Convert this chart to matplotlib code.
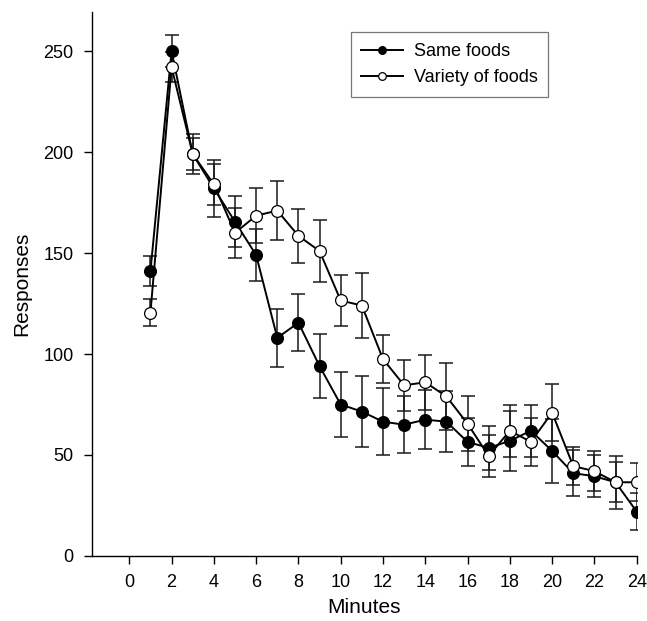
import matplotlib
matplotlib.use('Agg')
import matplotlib.pyplot as plt

plt.rcParams['font.family'] = ['Liberation Sans', 'DejaVu Sans']

minutes = list(range(1, 25))

# Same foods (filled circles)
same_mean = [141, 250, 199, 182, 165.5, 149, 108, 115.5, 94, 75, 71.5, 66.5,
             65, 67.5, 66.5, 56.5, 53.5, 57, 62, 52, 41, 39.5, 36.5, 22]
same_err = [7.5, 8, 10, 14, 12.5, 13, 14.5, 14, 16, 16, 17.5, 16.5,
            14, 14.5, 15, 12, 11, 15, 13, 16, 11.5, 10.5, 13, 9]

# Variety of foods (open circles)
variety_mean = [120.5, 242, 199, 184, 160, 168.5, 171, 158.5, 151, 126.5, 124, 97.5,
                84.5, 86, 79, 65.5, 49.5, 62, 56.5, 71, 44.5, 42, 36.5, 36.5]
variety_err = [6.5, 7.5, 8, 10, 12.5, 13.5, 14.5, 13.5, 15.5, 12.5, 16, 12,
               12.5, 13.5, 16.5, 13.5, 10.5, 13, 12, 14, 9.5, 10, 10, 9.5]

fig = plt.figure(figsize=(6.47, 6.21), dpi=100)
ax = fig.add_axes([0.1417, 0.1047, 0.8423, 0.8765])

ax.errorbar(minutes, same_mean, yerr=same_err, fmt='none', ecolor='#1a1a1a',
            elinewidth=1.1, capsize=5, capthick=1.1, zorder=2)
ax.errorbar(minutes, variety_mean, yerr=variety_err, fmt='none', ecolor='#1a1a1a',
            elinewidth=1.1, capsize=5, capthick=1.1, zorder=2)
ax.plot(minutes, same_mean, color='black', linewidth=1.4, marker='o',
        markersize=8.5, markerfacecolor='black', markeredgecolor='black',
        markeredgewidth=0.9, label='Same foods', zorder=3)
ax.plot(minutes, variety_mean, color='black', linewidth=1.4, marker='o',
        markersize=8.5, markerfacecolor='white', markeredgecolor='black',
        markeredgewidth=0.9, label='Variety of foods', zorder=4)

ax.set_xlim(-1.78, 24)
ax.set_ylim(0, 269.5)
ax.set_xticks(range(0, 25, 2))
ax.set_yticks([0, 50, 100, 150, 200, 250])

for side in ['top', 'right']:
    ax.spines[side].set_visible(False)
for side in ['left', 'bottom']:
    ax.spines[side].set_linewidth(1.0)
ax.tick_params(direction='out', length=6, width=1.0, labelsize=13, pad=7)

ax.set_xlabel('Minutes', fontsize=15, labelpad=5)
ax.set_ylabel('Responses', fontsize=15, labelpad=9)

leg = ax.legend(loc='upper left', bbox_to_anchor=(0.475, 0.962), borderaxespad=0,
                fontsize=13, fancybox=False, frameon=True, markerscale=0.65,
                handlelength=2.3, handletextpad=0.6, borderpad=0.6,
                labelspacing=0.5)
leg.get_frame().set_edgecolor('#555555')
leg.get_frame().set_linewidth(0.9)

plt.savefig('out.png', dpi=100)
